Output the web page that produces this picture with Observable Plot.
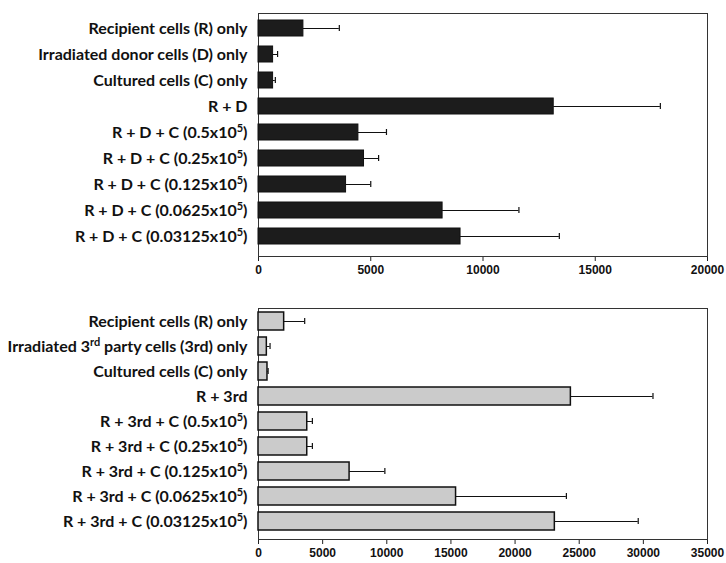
<!DOCTYPE html>
<html>
<head>
<meta charset="utf-8">
<script src="https://cdn.jsdelivr.net/npm/d3@7"></script>
<script src="https://cdn.jsdelivr.net/npm/@observablehq/plot@0.6"></script>
<style>
  html, body { margin: 0; padding: 0; background: #fff; }
  #chart svg { display: block; }
</style>
</head>
<body>
<div id="chart"></div>
<script>
// ---- Data ----
const topCategories = [
  "Recipient cells (R) only",
  "Irradiated donor cells (D) only",
  "Cultured cells (C) only",
  "R + D",
  "R + D + C (0.5x10⁵)",
  "R + D + C (0.25x10⁵)",
  "R + D + C (0.125x10⁵)",
  "R + D + C (0.0625x10⁵)",
  "R + D + C (0.03125x10⁵)"
];
const topValues = [2000, 650, 650, 13150, 4450, 4700, 3900, 8200, 9000];
const topErrors = [1600, 200, 100, 4750, 1250, 650, 1100, 3400, 4400];
const topTicks = [0, 5000, 10000, 15000, 20000];

const bottomCategories = [
  "Recipient cells (R) only",
  "Irradiated 3ʳᵈ party cells (3rd) only",
  "Cultured cells (C) only",
  "R + 3rd",
  "R + 3rd + C (0.5x10⁵)",
  "R + 3rd + C (0.25x10⁵)",
  "R + 3rd + C (0.125x10⁵)",
  "R + 3rd + C (0.0625x10⁵)",
  "R + 3rd + C (0.03125x10⁵)"
];
const bottomValues = [2000, 650, 700, 24350, 3800, 3800, 7100, 15400, 23100];
const bottomErrors = [1600, 250, 50, 6400, 400, 400, 2750, 8600, 6500];
const bottomTicks = [0, 5000, 10000, 15000, 20000, 25000, 30000, 35000];

function panel({cats, values, errors, ticks, height, marginTop, marginBottom, fill, stroke, strokeWidth, paddingInner, paddingOuter, insetBottom, capInset}) {
  const data = cats.map((c, i) => ({cat: c, v: values[i], e: values[i] + errors[i]}));
  const svg = Plot.plot({
    width: 726,
    height,
    marginLeft: 258,
    marginRight: 19,
    marginTop,
    marginBottom,
    style: {fontFamily: "Lato, 'Liberation Sans', sans-serif", color: "#000", background: "#fff", overflow: "visible"},
    x: {domain: [0, ticks[ticks.length - 1]], ticks, tickFormat: d => String(d), tickSize: 5, tickPadding: 4, label: null},
    y: {domain: cats, paddingInner, paddingOuter, insetBottom, tickSize: 0, tickPadding: 11, label: null},
    marks: [
      Plot.frame({stroke: "#333", strokeWidth: 1}),
      Plot.barX(data, {x: "v", y: "cat", fill, stroke, strokeWidth}),
      Plot.ruleY(data, {x1: "v", x2: "e", y: "cat", stroke: "#111", strokeWidth: 1}),
      Plot.tickX(data, {x: "e", y: "cat", stroke: "#111", strokeWidth: 1.2, insetTop: capInset, insetBottom: capInset})
    ]
  });
  d3.select(svg).selectAll('g[aria-label="x-axis tick label"] text')
    .attr("font-family", "'Liberation Sans', Arial, sans-serif")
    .attr("font-size", 12)
    .attr("font-weight", "bold")
    .attr("fill", "#111");
  d3.select(svg).selectAll('g[aria-label="x-axis tick"]').attr("stroke", "#222");
  d3.select(svg).selectAll('g[aria-label="y-axis tick label"] text').each(function () {
    const t = d3.select(this);
    t.attr("font-family", "Lato, 'Liberation Sans', sans-serif")
     .attr("font-size", 16)
     .attr("font-weight", "bold")
     .attr("fill", "#111");
    const s = this.textContent;
    const parts = s.split(/(⁵|ʳᵈ)/).filter(p => p !== "");
    if (parts.length <= 1) return;
    t.text(null);
    let raised = false;
    for (const p of parts) {
      if (p === "⁵" || p === "ʳᵈ") {
        t.append("tspan").attr("dy", raised ? 0 : -6).attr("font-size", 11).text(p === "⁵" ? "5" : "rd");
        raised = true;
      } else {
        t.append("tspan").attr("dy", raised ? 6 : 0).text(p);
        raised = false;
      }
    }
  });
  return svg;
}

const chart = document.getElementById("chart");
chart.appendChild(panel({
  cats: topCategories, values: topValues, errors: topErrors, ticks: topTicks,
  height: 280, marginTop: 13, marginBottom: 24,
  fill: "#1c1c1c", stroke: "#111", strokeWidth: 1,
  paddingInner: 0.38, paddingOuter: 0.2, insetBottom: 4, capInset: 5
}));
chart.appendChild(panel({
  cats: bottomCategories, values: bottomValues, errors: bottomErrors, ticks: bottomTicks,
  height: 283, marginTop: 28, marginBottom: 24,
  fill: "#cbcbcb", stroke: "#111", strokeWidth: 1.5,
  paddingInner: 0.3, paddingOuter: 0.06, insetBottom: 5, capInset: 6
}));
</script>
</body>
</html>
